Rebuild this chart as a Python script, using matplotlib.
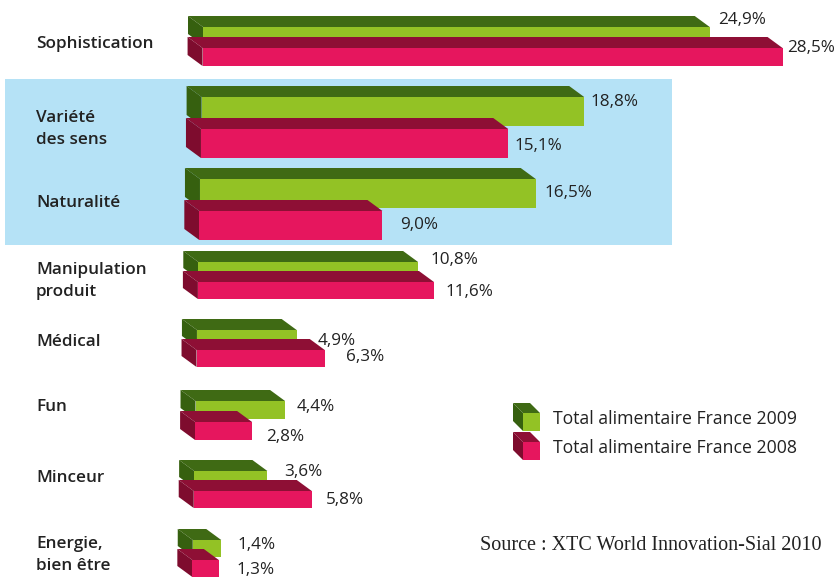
import matplotlib

matplotlib.use("Agg")
import matplotlib.pyplot as plt
from matplotlib.patches import Polygon, Rectangle

# --- data -----------------------------------------------------------------
categories = ["Sophistication", "Variété\ndes sens", "Naturalité", "Manipulation\nproduit",
              "Médical", "Fun", "Minceur", "Energie,\nbien être"]
values_2009 = [24.9, 18.8, 16.5, 10.8, 4.9, 4.4, 3.6, 1.4]
values_2008 = [28.5, 15.1, 9.0, 11.6, 6.3, 2.8, 5.8, 1.3]
series_names = ["Total alimentaire France 2009", "Total alimentaire France 2008"]
source = "Source : XTC World Innovation-Sial 2010"

# --- layout (pixels, y downward) -------------------------------------------
W, H = 837, 577
PX_PER_PCT = 20.35
X_BASE = 203            # left edge of the first front face
row_top = [27, 97, 179, 262, 330, 401, 471, 540]   # top of 2009 front face
bar_h = [18, 29, 29, 17, 17, 18, 17, 17]
lab_dy_2009 = [-7, 5, 14, -2, 11, 6, 1, 5]
lab_dy_2008 = [0, 17, 14, 10, 7, 15, 9, 10]
lab_gap_2009 = [8, 6, 9, 12, 21, 12, 17, 16]
lab_gap_2008 = [5, 6, 18, 12, 21, 14, 14, 18]
cat_y = [44, 129, 203, 281, 342, 407, 478, 555]
DEPTH_X, DEPTH_Y = 15, 11

GREEN, GREEN_DARK, GREEN_SIDE = "#93c225", "#3f6a14", "#36600f"
PINK, PINK_DARK, PINK_SIDE = "#e6165e", "#8e0f35", "#7e0c2e"
BLUE = "#b5e2f6"
TXT = "#222222"
SANS = ["Open Sans", "DejaVu Sans"]


def box3d(ax, x0, x1, top, h, dx, dy, colors, z=2):
    front, dark, side = colors
    ax.add_patch(Polygon([(x0 - dx, top - dy), (x1 - dx, top - dy), (x1, top), (x0, top)],
                         closed=True, facecolor=dark, edgecolor="none", zorder=z))
    ax.add_patch(Polygon([(x0 - dx, top - dy), (x0, top), (x0, top + h), (x0 - dx, top + h - dy)],
                         closed=True, facecolor=side, edgecolor="none", zorder=z))
    ax.add_patch(Rectangle((x0, top), x1 - x0, h, facecolor=front, edgecolor="none", zorder=z))


fig = plt.figure(figsize=(W / 100, H / 100), dpi=100)

# background layer in pixel coordinates
bg = fig.add_axes([0, 0, 1, 1], zorder=0)
bg.set_xlim(0, W)
bg.set_ylim(H, 0)
bg.axis("off")
bg.add_patch(Rectangle((5, 79), 667, 166, facecolor=BLUE, edgecolor="none"))

for name, y in zip(categories, cat_y):
    bg.text(36, y, name, ha="left", va="center", fontsize=12.3, fontweight="semibold",
            color=TXT, family=SANS, linespacing=1.45)

leg_colors = [(GREEN, GREEN_DARK, GREEN_SIDE), (PINK, PINK_DARK, PINK_SIDE)]
for i, (name, cols) in enumerate(zip(series_names, leg_colors)):
    top = 413 + i * 29
    box3d(bg, 523, 540, top, 18, 10, 10, cols)
    bg.text(553, top + 6, name, ha="left", va="center", fontsize=12.7, color=TXT, family=SANS)

bg.text(480, 545, source, ha="left", va="center", fontsize=14.5, color=TXT,
        family=["Liberation Serif", "DejaVu Serif"])

# bar layer: x in percent, y in pixels
ax = fig.add_axes([0, 0, 1, 1], zorder=1)
ax.set_xlim(-X_BASE / PX_PER_PCT, (W - X_BASE) / PX_PER_PCT)
ax.set_ylim(H, 0)
ax.axis("off")
ax.patch.set_alpha(0)

dx = DEPTH_X / PX_PER_PCT
for i in range(len(categories)):
    g_top = row_top[i]
    p_top = g_top + bar_h[i] + 3
    for top, val, cols, dy_lab, gap in (
            (g_top, values_2009[i], leg_colors[0], lab_dy_2009[i], lab_gap_2009[i]),
            (p_top, values_2008[i], leg_colors[1], lab_dy_2008[i], lab_gap_2008[i])):
        x0 = -(top - 27) * 0.02 / PX_PER_PCT
        box3d(ax, x0, x0 + val, top, bar_h[i], dx, DEPTH_Y, cols)
        ax.text(x0 + val + gap / PX_PER_PCT, top + dy_lab, f"{val:.1f}%".replace(".", ","),
                ha="left", va="center", fontsize=12.3, color=TXT, family=SANS)

fig.savefig("out.png", dpi=100)
